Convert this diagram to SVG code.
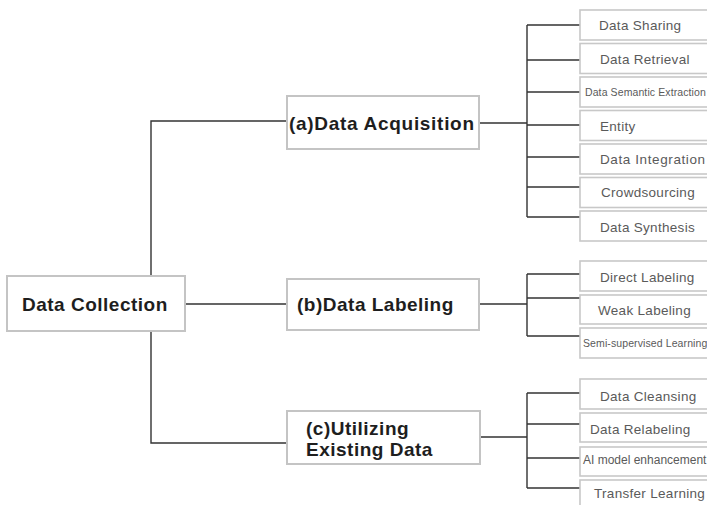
<svg xmlns="http://www.w3.org/2000/svg" width="707" height="505" viewBox="0 0 707 505">
<style>
.main rect{fill:#fff;stroke:#c4c4c4;stroke-width:2}
.main text{font-family:"Liberation Sans",Arial,sans-serif;font-weight:bold;font-size:19px;fill:#1e1e1e;letter-spacing:0.5px}
.leaf rect{fill:#fff;stroke:#c8c8c8;stroke-width:1.6}
.leaf text{font-family:"Liberation Sans",Arial,sans-serif;font-size:13.5px;fill:#5a5a5a;letter-spacing:0.3px}
.leaf text.small{font-size:10.5px;letter-spacing:0.1px}
.conn path{fill:none;stroke:#333;stroke-width:1.4}
</style>
<rect width="707" height="505" fill="#fff"/>
<g class="conn">
<path d="M151 276V121H288M185 304H288M151 331V443H288"/>
<path d="M479 123H527M527 25V217M527 25H580M527 60H580M527 92H580M527 125H580M527 157H580M527 187H580M527 217H580"/>
<path d="M479 304H527M527 274V336M527 274H580M527 298H580M527 336H580"/>
<path d="M480 437H527M527 393V488M527 393H580M527 424H580M527 458H580M527 488H580"/>
</g>
<g id="data-collection" class="main"><rect x="7" y="276" width="178" height="55"/><text x="22" y="311">Data Collection</text></g>
<g id="data-acquisition" class="main"><rect x="287" y="96" width="192" height="53"/><text x="289" y="130" style="letter-spacing:0.7px">(a)Data Acquisition</text></g>
<g id="data-labeling" class="main"><rect x="287" y="279" width="192" height="51"/><text x="297" y="311">(b)Data Labeling</text></g>
<g id="utilizing-existing-data" class="main"><rect x="287" y="411" width="193" height="53"/><text x="306" y="435">(c)Utilizing</text><text x="306" y="456">Existing Data</text></g>
<g id="data-sharing" class="leaf"><rect x="580" y="10" width="135" height="30"/><text x="599" y="30">Data Sharing</text></g>
<g id="data-retrieval" class="leaf"><rect x="580" y="43.5" width="135" height="30"/><text x="600" y="64">Data Retrieval</text></g>
<g id="data-semantic-extraction" class="leaf"><rect x="580" y="77" width="135" height="30"/><text class="small" x="585" y="95.5">Data Semantic Extraction</text></g>
<g id="entity" class="leaf"><rect x="580" y="110.5" width="135" height="30"/><text x="600" y="131">Entity</text></g>
<g id="data-integration" class="leaf"><rect x="580" y="144" width="135" height="30"/><text x="600" y="164" style="letter-spacing:0.6px">Data Integration</text></g>
<g id="crowdsourcing" class="leaf"><rect x="580" y="177.5" width="135" height="30"/><text x="601" y="197">Crowdsourcing</text></g>
<g id="data-synthesis" class="leaf"><rect x="580" y="211" width="135" height="30"/><text x="600" y="232">Data Synthesis</text></g>
<g id="direct-labeling" class="leaf"><rect x="580" y="261" width="135" height="30"/><text x="600" y="282">Direct Labeling</text></g>
<g id="weak-labeling" class="leaf"><rect x="580" y="295" width="135" height="29"/><text x="598" y="315">Weak Labeling</text></g>
<g id="semi-supervised-learning" class="leaf"><rect x="580" y="328" width="135" height="30"/><text class="small" x="583" y="346.5">Semi-supervised Learning</text></g>
<g id="data-cleansing" class="leaf"><rect x="580" y="379" width="135" height="30"/><text x="600" y="401">Data Cleansing</text></g>
<g id="data-relabeling" class="leaf"><rect x="580" y="413" width="135" height="29"/><text x="590" y="434">Data Relabeling</text></g>
<g id="ai-model-enhancement" class="leaf"><rect x="580" y="447" width="135" height="29"/><text x="583" y="464" style="font-size:12px;letter-spacing:0">AI model enhancement</text></g>
<g id="transfer-learning" class="leaf"><rect x="580" y="480" width="135" height="30"/><text x="594" y="498">Transfer Learning</text></g>
</svg>
